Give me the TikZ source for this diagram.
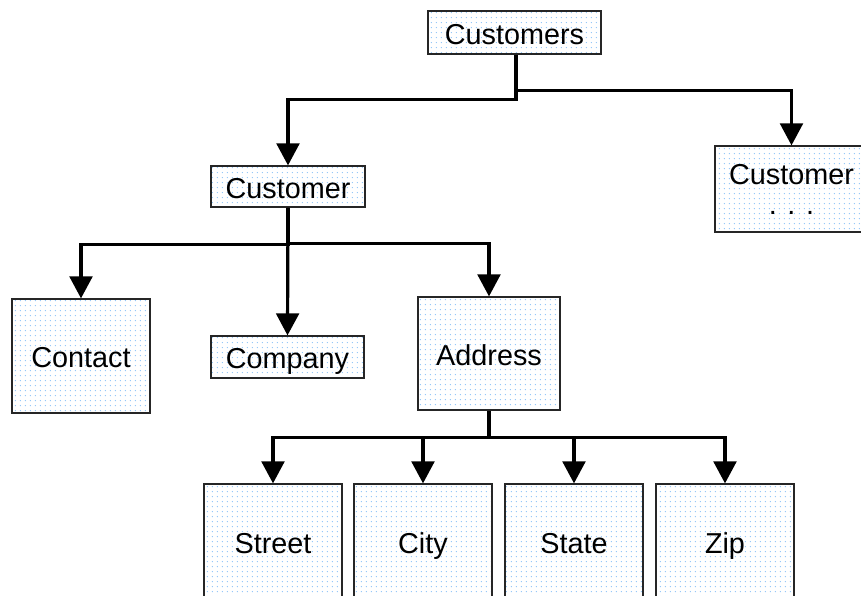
\documentclass[tikz,border=0pt]{standalone}
\usepackage{fontspec}
\setmainfont{Liberation Sans}
\usepackage{xcolor}
\usepackage{tikz}
\usetikzlibrary{arrows.meta,calc,patterns.meta}
\definecolor{dotcol}{HTML}{8CC2F6}
\definecolor{linecol}{HTML}{000000}

\begin{document}
\begin{tikzpicture}[x=0.75pt,y=-0.75pt,
  font=\fontsize{21.6}{25}\selectfont,
  box/.style={draw=linecol!85,line width=0.9pt,inner sep=0pt,align=center,
              pattern={Dots[distance=4pt,radius=0.55pt]},pattern color=dotcol},
  item/.style={box,text height=17.7pt,text depth=0pt},
  link/.style={draw=linecol,line width=2.4pt,
               -{Triangle[width=17pt,length=16.5pt]}},
]
\clip (0,0) rectangle (861,596);

% top level
\node[item,minimum width=129.75pt,minimum height=32.25pt] (custs) at (514.5,32.5) {Customers};

% customers
\node[item,minimum width=115.5pt,minimum height=30.75pt] (cust) at (288,186.5) {Customer};
\node[box,minimum width=114.75pt,minimum height=64.5pt] (more) at (791.5,189)
  {Customer\\[-2.5pt]. . .};

% customer details
\node[item,minimum width=103.5pt,minimum height=85.5pt] (contact) at (81,356) {Contact};
\node[item,minimum width=114.75pt,minimum height=31.5pt] (company) at (287.5,357) {Company};
\node[item,minimum width=106.5pt,minimum height=84.75pt] (address) at (489,353.5) {Address};

% address parts
\node[item,minimum width=103.5pt,minimum height=86.25pt] (street) at (273,541.5) {Street};
\node[item,minimum width=103.5pt,minimum height=86.25pt] (city)   at (423,541.5) {City};
\node[item,minimum width=103.5pt,minimum height=86.25pt] (state)  at (574,541.5) {State};
\node[item,minimum width=103.5pt,minimum height=86.25pt] (zip)    at (725,541.5) {Zip};

% connectors
\draw[link] ($(custs.south)+(1.5,0)$) -- ++(0,45) -| (cust.north);
\draw[link] ($(custs.south)+(1.5,36)$) -| (more.north);

\draw[link] (cust.south) -- ++(0,37) -| (contact.north);
\draw[link] (cust.south) -- (company.north);
\draw[link] ($(cust.south)+(0,36)$) -| (address.north);

\draw[line width=2.4pt] (address.south) -- ++(0,27) coordinate (fork);
\foreach \part in {street,city,state,zip}
  \draw[link] (fork) -| (\part.north);
\end{tikzpicture}
\end{document}
